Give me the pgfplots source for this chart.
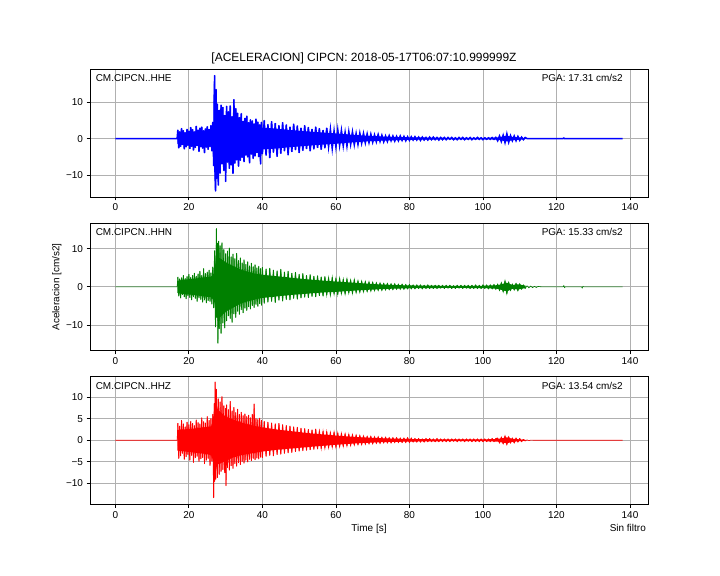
\documentclass[border=0pt]{standalone}
\usepackage{pgfplots}
\pgfplotsset{compat=1.18}
\usepackage{pgfplotstable}
\usepackage{fontspec}
\setmainfont{Liberation Sans}
\definecolor{gridc}{RGB}{176,176,176}
\definecolor{mplgreen}{RGB}{0,128,0}

\pgfplotstableread[row sep=\\]{t a\\
0 0\\ 16.8 0\\
17.00 2.4\\ 17.25 -2.6\\ 17.50 1.9\\ 17.75 -2.2\\ 18.00 2.8\\ 18.25 -1.7\\ 18.50 2.2\\ 18.75 -2.9\\ 19.00 1.6\\ 19.25 -2.3\\
19.50 2.6\\ 19.75 -1.9\\ 20.00 2.1\\ 20.25 -2.8\\ 20.50 3.1\\ 20.75 -2.2\\ 21.00 2.5\\ 21.25 -3.2\\ 21.50 1.8\\ 21.75 -2.5\\
22.00 3.4\\ 22.25 -2.0\\ 22.50 2.4\\ 22.75 -3.6\\ 23.00 2.9\\ 23.25 -2.3\\ 23.50 3.2\\ 23.75 -2.7\\ 24.00 2.2\\ 24.25 -3.9\\
24.50 2.7\\ 24.75 -2.4\\ 25.00 3.3\\ 25.25 -3.0\\ 25.50 2.6\\ 25.75 -2.2\\ 26.00 3.6\\ 26.25 -3.4\\ 26.50 4.5\\ 26.75 -7.5\\
26.90 12.0\\ 27.00 17.3\\ 27.10 -9.0\\ 27.25 -14.4\\ 27.40 13.5\\ 27.50 -11.0\\ 27.75 9.5\\ 28.00 -12.8\\ 28.25 7.8\\ 28.50 -9.5\\
28.75 9.2\\ 29.00 -7.0\\ 29.25 8.6\\ 29.50 -8.8\\ 29.75 6.4\\ 30.00 -11.8\\ 30.25 8.9\\ 30.50 -6.5\\ 30.75 7.4\\ 31.00 -8.2\\
31.25 9.0\\ 31.50 -7.3\\ 31.75 6.1\\ 32.00 -9.6\\ 32.25 10.7\\ 32.50 -6.8\\ 32.75 8.3\\ 33.00 -5.9\\ 33.25 7.0\\ 33.50 -7.6\\
33.75 5.8\\ 34.00 -6.0\\ 34.25 6.9\\ 34.50 -5.2\\ 34.75 4.8\\ 35.00 -6.4\\ 35.25 5.6\\ 35.50 -4.6\\ 35.75 6.2\\ 36.00 -5.1\\
36.25 4.4\\ 36.50 -6.7\\ 36.75 5.2\\ 37.00 -4.3\\ 37.25 4.9\\ 37.50 -5.5\\ 37.75 4.1\\ 38.00 -4.8\\ 38.25 5.4\\ 38.50 -3.9\\
38.75 4.6\\ 39.00 -5.0\\ 39.25 3.8\\ 39.50 -7.0\\ 39.75 4.5\\ 40.00 -4.2\\
40.5 5.0\\ 41.0 -4.6\\ 41.5 3.9\\ 42.0 -5.3\\ 42.5 4.7\\ 43.0 -3.8\\ 43.5 4.2\\ 44.0 -4.9\\ 44.5 3.6\\ 45.0 -4.1\\
45.5 4.4\\ 46.0 -3.4\\ 46.5 3.8\\ 47.0 -4.5\\ 47.5 3.2\\ 48.0 -3.6\\ 48.5 4.0\\ 49.0 -3.1\\ 49.5 3.5\\ 50.0 -3.9\\
50.5 2.9\\ 51.0 -3.3\\ 51.5 3.6\\ 52.0 -2.8\\ 52.5 3.1\\ 53.0 -3.4\\ 53.5 2.6\\ 54.0 -2.9\\ 54.5 3.2\\ 55.0 -2.5\\
55.5 2.8\\ 56.0 -3.0\\ 56.5 2.3\\ 57.0 -2.6\\ 57.5 2.9\\ 58.0 -2.2\\ 58.5 2.5\\ 59.0 -2.7\\ 59.5 2.1\\ 60.0 -2.3\\
60.5 2.4\\ 61.0 -1.9\\ 61.5 2.2\\ 62.0 -2.0\\ 62.5 1.7\\ 63.0 -2.1\\ 63.5 1.9\\ 64.0 -1.6\\ 64.5 1.8\\ 65.0 -1.7\\
65.5 1.4\\ 66.0 -1.6\\ 66.5 1.5\\ 67.0 -1.3\\ 67.5 1.4\\ 68.0 -1.2\\ 68.5 1.3\\ 69.0 -1.1\\ 69.5 1.2\\ 70.0 -1.0\\
70.5 1.0\\ 71.0 -0.9\\ 71.5 1.1\\ 72.0 -0.8\\ 72.5 0.9\\ 73.0 -0.9\\ 73.5 0.7\\ 74.0 -0.8\\ 74.5 0.8\\ 75.0 -0.6\\
75.5 0.7\\ 76.0 -0.7\\ 76.5 0.6\\ 77.0 -0.6\\ 77.5 0.7\\ 78.0 -0.5\\ 78.5 0.6\\ 79.0 -0.6\\ 79.5 0.5\\ 80.0 -0.5\\
80.5 0.5\\ 81.0 -0.4\\ 81.5 0.5\\ 82.0 -0.4\\ 82.5 0.4\\ 83.0 -0.5\\ 83.5 0.4\\ 84.0 -0.4\\ 84.5 0.3\\ 85.0 -0.4\\
85.5 0.4\\ 86.0 -0.3\\ 86.5 0.4\\ 87.0 -0.3\\ 87.5 0.3\\ 88.0 -0.4\\ 88.5 0.3\\ 89.0 -0.3\\ 89.5 0.3\\ 90.0 -0.3\\
90.5 0.3\\ 91.0 -0.2\\ 91.5 0.3\\ 92.0 -0.3\\ 92.5 0.2\\ 93.0 -0.3\\ 93.5 0.3\\ 94.0 -0.2\\ 94.5 0.3\\ 95.0 -0.3\\
95.5 0.2\\ 96.0 -0.2\\ 96.5 0.3\\ 97.0 -0.3\\ 97.5 0.2\\ 98.0 -0.2\\ 98.5 0.3\\ 99.0 -0.2\\ 99.5 0.2\\ 100.0 -0.3\\
100.5 0.2\\ 101.0 -0.2\\ 101.5 0.2\\ 102.0 -0.2\\ 102.5 0.3\\ 103.0 -0.2\\ 103.5 0.3\\
104.0 -0.6\\ 104.5 0.7\\ 105.0 -0.8\\ 105.5 0.9\\ 106.0 -1.1\\ 106.5 1.3\\ 107.0 -1.0\\ 107.5 0.8\\ 108.0 -0.6\\ 108.5 0.7\\
109.0 -0.6\\ 109.5 0.6\\ 110.0 -0.5\\ 110.5 0.4\\ 111.0 -0.3\\ 111.5 0.3\\
112 0\\ 121.8 0\\ 122 0.15\\ 122.2 0\\ 138 0\\
}\hhe

\pgfplotstableread[row sep=\\]{t a\\
16.9 1.5\\ 18 1.6\\ 20 1.8\\ 22 2.0\\ 24 2.0\\ 26 2.2\\ 26.8 3.0\\ 27.2 7.0\\ 28 6.0\\ 30 5.5\\ 32 5.0\\ 34 4.0\\ 36 3.5\\
38 3.2\\ 40 3.0\\ 44 2.7\\ 48 2.3\\ 52 2.0\\ 56 1.7\\ 60 1.4\\ 64 1.1\\ 68 0.8\\ 72 0.6\\ 76 0.45\\ 80 0.35\\ 90 0.22\\
100 0.18\\ 104 0.3\\ 106.5 0.8\\ 108 0.45\\ 110 0.3\\ 111.6 0.15\\
111.6 -0.15\\ 110 -0.3\\ 108 -0.45\\ 106.5 -0.8\\ 104 -0.3\\ 100 -0.18\\ 90 -0.22\\ 80 -0.35\\ 76 -0.45\\ 72 -0.6\\ 68 -0.8\\
64 -1.1\\ 60 -1.4\\ 56 -1.7\\ 52 -2.0\\ 48 -2.3\\ 44 -2.7\\ 40 -3.0\\ 38 -3.2\\ 36 -3.6\\ 34 -4.0\\ 32 -5.0\\ 30 -6.0\\
28 -7.0\\ 27.2 -6.0\\ 26.8 -3.0\\ 26 -2.2\\ 24 -2.1\\ 22 -2.0\\ 20 -1.8\\ 18 -1.6\\ 16.9 -1.5\\
}\hhecore

\pgfplotstableread[row sep=\\]{t a\\
0 0\\ 16.8 0\\
17.00 2.6\\ 17.25 -2.4\\ 17.50 2.1\\ 17.75 -2.9\\ 18.00 2.4\\ 18.25 -2.0\\ 18.50 3.0\\ 18.75 -2.6\\ 19.00 2.2\\ 19.25 -3.1\\
19.50 2.7\\ 19.75 -2.3\\ 20.00 3.3\\ 20.25 -2.8\\ 20.50 2.5\\ 20.75 -3.4\\ 21.00 3.0\\ 21.25 -2.6\\ 21.50 3.6\\ 21.75 -3.0\\
22.00 2.8\\ 22.25 -3.8\\ 22.50 3.4\\ 22.75 -2.9\\ 23.00 4.1\\ 23.25 -3.3\\ 23.50 3.0\\ 23.75 -4.0\\ 24.00 4.8\\ 24.25 -3.4\\
24.50 3.5\\ 24.75 -4.2\\ 25.00 3.9\\ 25.25 -3.6\\ 25.50 4.4\\ 25.75 -3.8\\ 26.00 3.7\\ 26.25 -4.5\\ 26.50 5.2\\ 26.75 -5.5\\
27.00 9.5\\ 27.25 -10.5\\ 27.50 15.3\\ 27.60 -8.0\\ 27.75 11.5\\ 27.90 -14.8\\ 28.10 12.0\\ 28.25 -11.0\\ 28.50 10.8\\ 28.75 -12.2\\
29.00 11.6\\ 29.25 -9.5\\ 29.50 9.8\\ 29.75 -10.8\\ 30.00 8.7\\ 30.25 -8.9\\ 30.50 9.4\\ 30.75 -7.6\\ 31.00 10.2\\ 31.25 -8.3\\
31.50 7.9\\ 31.75 -9.3\\ 32.00 8.6\\ 32.25 -7.1\\ 32.50 7.4\\ 32.75 -8.0\\ 33.00 8.8\\ 33.25 -6.4\\ 33.50 6.9\\ 33.75 -7.2\\
34.00 7.6\\ 34.25 -6.0\\ 34.50 6.3\\ 34.75 -6.8\\ 35.00 7.1\\ 35.25 -5.6\\ 35.50 5.9\\ 35.75 -6.2\\ 36.00 6.6\\ 36.25 -5.2\\
36.50 5.5\\ 36.75 -5.8\\ 37.00 6.2\\ 37.25 -4.9\\ 37.50 5.3\\ 37.75 -5.4\\ 38.00 5.8\\ 38.25 -4.6\\ 38.50 5.0\\ 38.75 -5.1\\
39.00 5.4\\ 39.25 -4.4\\ 39.50 4.8\\ 39.75 -4.8\\ 40.00 5.1\\
40.5 -4.3\\ 41.0 4.7\\ 41.5 -4.0\\ 42.0 4.9\\ 42.5 -3.8\\ 43.0 4.4\\ 43.5 -4.1\\ 44.0 4.2\\ 44.5 -3.5\\ 45.0 4.6\\
45.5 -3.7\\ 46.0 3.9\\ 46.5 -3.3\\ 47.0 4.1\\ 47.5 -3.4\\ 48.0 3.6\\ 48.5 -3.0\\ 49.0 3.8\\ 49.5 -3.2\\ 50.0 3.3\\
50.5 -2.9\\ 51.0 3.5\\ 51.5 -2.7\\ 52.0 3.0\\ 52.5 -2.8\\ 53.0 3.2\\ 53.5 -2.5\\ 54.0 2.8\\ 54.5 -2.6\\ 55.0 2.9\\
55.5 -2.3\\ 56.0 2.6\\ 56.5 -2.4\\ 57.0 2.7\\ 57.5 -2.1\\ 58.0 2.4\\ 58.5 -2.2\\ 59.0 2.5\\ 59.5 -1.9\\ 60.0 2.2\\
60.5 -2.0\\ 61.0 2.3\\ 61.5 -1.8\\ 62.0 2.0\\ 62.5 -1.9\\ 63.0 2.1\\ 63.5 -1.6\\ 64.0 1.8\\ 64.5 -1.7\\ 65.0 1.9\\
65.5 -1.5\\ 66.0 1.6\\ 66.5 -1.4\\ 67.0 1.5\\ 67.5 -1.3\\ 68.0 1.4\\ 68.5 -1.2\\ 69.0 1.3\\ 69.5 -1.1\\ 70.0 1.2\\
70.5 -1.0\\ 71.0 1.1\\ 71.5 -0.9\\ 72.0 1.0\\ 72.5 -0.9\\ 73.0 0.9\\ 73.5 -0.8\\ 74.0 0.9\\ 74.5 -0.7\\ 75.0 0.8\\
75.5 -0.7\\ 76.0 0.8\\ 76.5 -0.6\\ 77.0 0.7\\ 77.5 -0.6\\ 78.0 0.7\\ 78.5 -0.6\\ 79.0 0.6\\ 79.5 -0.5\\ 80.0 0.6\\
80.5 -0.5\\ 81.0 0.5\\ 81.5 -0.5\\ 82.0 0.5\\ 82.5 -0.4\\ 83.0 0.5\\ 83.5 -0.5\\ 84.0 0.4\\ 84.5 -0.4\\ 85.0 0.5\\
85.5 -0.4\\ 86.0 0.4\\ 86.5 -0.4\\ 87.0 0.4\\ 87.5 -0.4\\ 88.0 0.4\\ 88.5 -0.3\\ 89.0 0.4\\ 89.5 -0.4\\ 90.0 0.4\\
90.5 -0.3\\ 91.0 0.4\\ 91.5 -0.4\\ 92.0 0.3\\ 92.5 -0.4\\ 93.0 0.4\\ 93.5 -0.3\\ 94.0 0.4\\ 94.5 -0.4\\ 95.0 0.4\\
95.5 -0.3\\ 96.0 0.4\\ 96.5 -0.4\\ 97.0 0.4\\ 97.5 -0.4\\ 98.0 0.5\\ 98.5 -0.4\\ 99.0 0.4\\ 99.5 -0.4\\ 100.0 0.5\\
100.5 -0.4\\ 101.0 0.5\\ 101.5 -0.5\\ 102.0 0.5\\ 102.5 -0.5\\ 103.0 0.6\\ 103.5 -0.6\\
104.0 0.7\\ 104.5 -0.9\\ 105.0 1.1\\ 105.5 -1.3\\ 106.0 1.6\\ 106.5 -1.8\\ 107.0 1.2\\ 107.5 -0.9\\ 108.0 0.7\\ 108.5 -0.8\\
109.0 0.9\\ 109.5 -1.0\\ 110.0 0.8\\ 110.5 -0.6\\ 111.0 0.5\\ 111.5 -0.4\\
112 0.3\\ 112.5 -0.25\\ 113 0.2\\ 113.5 -0.2\\ 114 0.15\\ 114.5 -0.15\\ 115 0.12\\ 116 0\\ 121.8 0\\ 122 0.35\\ 122.2 -0.2\\ 122.4 0\\
126.8 0\\ 127 -0.3\\ 127.2 0.15\\ 127.4 0\\ 138 0\\
}\hhn

\pgfplotstableread[row sep=\\]{t a\\
16.9 1.6\\ 18 1.8\\ 20 2.0\\ 22 2.2\\ 24 2.5\\ 26 2.7\\ 26.8 3.5\\ 27.5 8.0\\ 28.5 7.5\\ 30 6.5\\ 32 5.5\\ 34 4.6\\ 36 4.0\\
38 3.5\\ 40 3.2\\ 44 2.8\\ 48 2.4\\ 52 2.0\\ 56 1.7\\ 60 1.4\\ 64 1.15\\ 68 0.9\\ 72 0.65\\ 76 0.5\\ 80 0.38\\ 90 0.28\\
100 0.3\\ 104 0.45\\ 106.5 1.1\\ 108 0.5\\ 109.5 0.7\\ 111.6 0.3\\
111.6 -0.3\\ 109.5 -0.7\\ 108 -0.5\\ 106.5 -1.2\\ 104 -0.5\\ 100 -0.3\\ 90 -0.28\\ 80 -0.35\\ 76 -0.45\\ 72 -0.6\\ 68 -0.8\\
64 -1.05\\ 60 -1.3\\ 56 -1.5\\ 52 -1.8\\ 48 -2.1\\ 44 -2.5\\ 40 -2.9\\ 38 -3.3\\ 36 -3.8\\ 34 -4.4\\ 32 -5.5\\ 30 -6.5\\
28.5 -8.0\\ 27.5 -7.0\\ 26.8 -3.5\\ 26 -2.7\\ 24 -2.5\\ 22 -2.2\\ 20 -2.0\\ 18 -1.8\\ 16.9 -1.6\\
}\hhncore

\pgfplotstableread[row sep=\\]{t a\\
0 0\\ 16.8 0\\
17.00 4.0\\ 17.25 -4.2\\ 17.50 3.3\\ 17.75 -3.6\\ 18.00 4.6\\ 18.25 -3.0\\ 18.50 3.8\\ 18.75 -4.4\\ 19.00 3.1\\ 19.25 -3.8\\
19.50 4.2\\ 19.75 -3.3\\ 20.00 3.6\\ 20.25 -4.6\\ 20.50 4.4\\ 20.75 -3.5\\ 21.00 3.9\\ 21.25 -5.1\\ 21.50 3.4\\ 21.75 -4.0\\
22.00 4.7\\ 22.25 -3.7\\ 22.50 4.1\\ 22.75 -4.9\\ 23.00 3.8\\ 23.25 -4.3\\ 23.50 5.2\\ 23.75 -4.0\\ 24.00 4.3\\ 24.25 -5.4\\
24.50 4.0\\ 24.75 -4.6\\ 25.00 5.5\\ 25.25 -4.2\\ 25.50 4.6\\ 25.75 -5.8\\ 26.00 5.0\\ 26.25 -4.8\\ 26.50 6.0\\ 26.75 -13.3\\
26.90 8.5\\ 27.00 -9.5\\ 27.15 13.5\\ 27.30 -9.0\\ 27.50 11.8\\ 27.75 -8.6\\ 28.00 9.6\\ 28.25 -7.9\\ 28.50 8.9\\ 28.75 -7.2\\
29.00 10.1\\ 29.25 -6.8\\ 29.50 8.0\\ 29.75 -7.5\\ 30.00 7.4\\ 30.10 -10.5\\ 30.25 8.2\\ 30.50 -6.3\\ 30.75 7.1\\ 31.00 -6.9\\
31.25 9.0\\ 31.50 -5.9\\ 31.75 6.8\\ 32.00 -6.5\\ 32.25 7.6\\ 32.50 -5.4\\ 32.75 6.4\\ 33.00 -6.0\\ 33.25 7.2\\ 33.50 -5.2\\
33.75 6.0\\ 34.00 -5.6\\ 34.25 6.5\\ 34.50 -4.9\\ 34.75 5.7\\ 35.00 -5.3\\ 35.25 6.1\\ 35.50 -4.6\\ 35.75 5.5\\ 36.00 -5.0\\
36.25 5.8\\ 36.50 -4.4\\ 36.75 5.2\\ 37.00 -4.7\\ 37.25 6.0\\ 37.50 -4.2\\ 37.75 8.4\\ 38.00 -4.5\\ 38.25 5.0\\ 38.50 -4.1\\
38.75 4.8\\ 39.00 -4.3\\ 39.25 5.1\\ 39.50 -3.9\\ 39.75 4.6\\ 40.00 -4.0\\
40.5 4.4\\ 41.0 -3.7\\ 41.5 4.2\\ 42.0 -3.5\\ 42.5 4.0\\ 43.0 -3.6\\ 43.5 3.8\\ 44.0 -3.3\\ 44.5 3.9\\ 45.0 -3.2\\
45.5 3.6\\ 46.0 -3.0\\ 46.5 3.4\\ 47.0 -2.9\\ 47.5 3.3\\ 48.0 -2.8\\ 48.5 3.1\\ 49.0 -2.6\\ 49.5 3.0\\ 50.0 -2.5\\
50.5 2.8\\ 51.0 -2.4\\ 51.5 2.7\\ 52.0 -2.3\\ 52.5 2.5\\ 53.0 -2.2\\ 53.5 2.4\\ 54.0 -2.1\\ 54.5 2.6\\ 55.0 -2.0\\
55.5 2.2\\ 56.0 -1.9\\ 56.5 2.1\\ 57.0 -1.8\\ 57.5 2.0\\ 58.0 -1.7\\ 58.5 1.8\\ 59.0 -1.6\\ 59.5 1.9\\ 60.0 -1.6\\
60.5 1.7\\ 61.0 -1.5\\ 61.5 1.6\\ 62.0 -1.4\\ 62.5 1.5\\ 63.0 -1.3\\ 63.5 1.4\\ 64.0 -1.2\\ 64.5 1.3\\ 65.0 -1.1\\
65.5 1.2\\ 66.0 -1.0\\ 66.5 1.1\\ 67.0 -1.0\\ 67.5 1.0\\ 68.0 -0.9\\ 68.5 0.9\\ 69.0 -0.8\\ 69.5 0.9\\ 70.0 -0.8\\
70.5 0.8\\ 71.0 -0.7\\ 71.5 0.8\\ 72.0 -0.7\\ 72.5 0.7\\ 73.0 -0.6\\ 73.5 0.7\\ 74.0 -0.6\\ 74.5 0.6\\ 75.0 -0.6\\
75.5 0.6\\ 76.0 -0.5\\ 76.5 0.6\\ 77.0 -0.5\\ 77.5 0.5\\ 78.0 -0.5\\ 78.5 0.5\\ 79.0 -0.5\\ 79.5 0.6\\ 80.0 -0.5\\
80.5 0.5\\ 81.0 -0.4\\ 81.5 0.4\\ 82.0 -0.4\\ 82.5 0.4\\ 83.0 -0.4\\ 83.5 0.3\\ 84.0 -0.4\\ 84.5 0.4\\ 85.0 -0.3\\
85.5 0.4\\ 86.0 -0.3\\ 86.5 0.3\\ 87.0 -0.3\\ 87.5 0.4\\ 88.0 -0.3\\ 88.5 0.3\\ 89.0 -0.3\\ 89.5 0.3\\ 90.0 -0.3\\
90.5 0.3\\ 91.0 -0.3\\ 91.5 0.3\\ 92.0 -0.2\\ 92.5 0.3\\ 93.0 -0.3\\ 93.5 0.3\\ 94.0 -0.2\\ 94.5 0.3\\ 95.0 -0.3\\
95.5 0.3\\ 96.0 -0.2\\ 96.5 0.3\\ 97.0 -0.3\\ 97.5 0.3\\ 98.0 -0.3\\ 98.5 0.3\\ 99.0 -0.3\\ 99.5 0.3\\ 100.0 -0.3\\
100.5 0.3\\ 101.0 -0.3\\ 101.5 0.3\\ 102.0 -0.3\\ 102.5 0.4\\ 103.0 -0.3\\ 103.5 0.4\\
104.0 0.5\\ 104.5 -0.6\\ 105.0 0.7\\ 105.5 -0.8\\ 106.0 1.0\\ 106.5 -1.0\\ 107.0 0.8\\ 107.5 -0.6\\ 108.0 0.5\\ 108.5 -0.6\\
109.0 0.5\\ 109.5 -0.4\\ 110.0 0.4\\ 110.5 -0.3\\ 111.0 0.2\\ 111.5 -0.15\\ 112 0.1\\ 112.5 -0.08\\ 113 0.05\\ 114 0\\ 138 0\\
}\hhz

\pgfplotstableread[row sep=\\]{t a\\
16.9 2.4\\ 18 2.5\\ 20 2.6\\ 22 2.8\\ 24 3.0\\ 26 3.2\\ 26.8 4.5\\ 27.3 8.0\\ 28 7.0\\ 30 5.5\\ 32 4.8\\ 34 4.2\\ 36 3.7\\
38 3.3\\ 40 3.0\\ 44 2.5\\ 48 2.1\\ 52 1.7\\ 56 1.4\\ 60 1.1\\ 64 0.85\\ 68 0.65\\ 72 0.5\\ 76 0.38\\ 80 0.3\\ 90 0.2\\
100 0.2\\ 104 0.3\\ 106.5 0.7\\ 108 0.35\\ 111.6 0.1\\
111.6 -0.1\\ 108 -0.35\\ 106.5 -0.7\\ 104 -0.3\\ 100 -0.2\\ 90 -0.2\\ 80 -0.3\\ 76 -0.36\\ 72 -0.45\\ 68 -0.6\\ 64 -0.8\\
60 -1.05\\ 56 -1.3\\ 52 -1.6\\ 48 -1.9\\ 44 -2.2\\ 40 -2.6\\ 38 -2.9\\ 36 -3.2\\ 34 -3.5\\ 32 -4.0\\ 30 -4.8\\ 28 -5.5\\
27.3 -6.5\\ 26.8 -5.0\\ 26 -3.4\\ 24 -3.1\\ 22 -2.9\\ 20 -2.7\\ 18 -2.5\\ 16.9 -2.4\\
}\hhzcore

\pgfplotsset{
  seis/.style={
    scale only axis, width=558bp, height=127.8bp,
    xmin=-6.9, xmax=144.9,
    xtick={0,20,40,60,80,100,120,140},
    xticklabels={0,20,40,60,80,100,120,140},
    grid=major, major grid style={draw=gridc, line width=0.8bp},
    axis line style={line width=0.8bp},
    every tick/.style={black, line width=0.8bp},
    tick align=outside, major tick length=3.5bp,
    tick pos=left,
    ticklabel style={font=\fontsize{10}{12}\selectfont},
  },
  thin trace/.style={line width=0.6bp},
  thick trace/.style={line width=0.9bp, line join=round, restrict x to domain=16.9:111.6},
  core/.style={draw=none, fill=#1},
}
\tikzset{
  inlbl/.style={anchor=base west, inner sep=0pt, font=\fontsize{10}{12}\selectfont},
  inpga/.style={anchor=base east, inner sep=0pt, font=\fontsize{10}{12}\selectfont},
}

\begin{document}
\begin{tikzpicture}
\path[use as bounding box] (0,0) rectangle (720bp,576bp);

\begin{axis}[seis, at={(90bp,379bp)}, anchor=south west,
  ymin=-16.0, ymax=19.0, ytick={-10,0,10}, yticklabels={−10,0,10}]
\addplot[core=blue] table[x=t,y=a] {\hhecore};
\addplot[blue, line width=1.5bp] table[x=t,y=a] {\hhe};
\addplot[blue, thick trace] table[x=t,y=a] {\hhe};
\node[inlbl] at (rel axis cs:0.01,0.9) {CM.CIPCN..HHE};
\node[inpga] at (rel axis cs:0.955,0.9) {PGA: 17.31 cm/s2};
\end{axis}

\begin{axis}[seis, at={(90bp,225.2bp)}, anchor=south west,
  ymin=-16.8, ymax=16.8, ytick={-10,0,10}, yticklabels={−10,0,10}]
\addplot[core=mplgreen] table[x=t,y=a] {\hhncore};
\addplot[mplgreen, thin trace] table[x=t,y=a] {\hhn};
\addplot[mplgreen, thick trace] table[x=t,y=a] {\hhn};
\node[inlbl] at (rel axis cs:0.01,0.9) {CM.CIPCN..HHN};
\node[inpga] at (rel axis cs:0.955,0.9) {PGA: 15.33 cm/s2};
\end{axis}

\begin{axis}[seis, at={(90bp,71.8bp)}, anchor=south west,
  ymin=-14.8, ymax=14.8, ytick={-10,-5,0,5,10}, yticklabels={−10,−5,0,5,10}]
\addplot[core=red] table[x=t,y=a] {\hhzcore};
\addplot[red, thin trace] table[x=t,y=a] {\hhz};
\addplot[red, thick trace] table[x=t,y=a] {\hhz};
\node[inlbl] at (rel axis cs:0.01,0.9) {CM.CIPCN..HHZ};
\node[inpga] at (rel axis cs:0.955,0.9) {PGA: 13.54 cm/s2};
\end{axis}

\node[anchor=base, inner sep=0pt, font=\fontsize{12}{14}\selectfont] at (364bp,514.7bp) {[ACELERACION] CIPCN: 2018-05-17T06:07:10.999999Z};
\node[anchor=base, inner sep=0pt, font=\fontsize{10}{12}\selectfont] at (369bp,44bp) {Time [s]};
\node[anchor=base east, inner sep=0pt, font=\fontsize{10}{12}\selectfont] at (646bp,44bp) {Sin filtro};
\node[rotate=90, anchor=center, inner sep=0pt, font=\fontsize{10}{12}\selectfont] at (56.7bp,289bp) {Aceleracion [cm/s2]};
\end{tikzpicture}
\end{document}
